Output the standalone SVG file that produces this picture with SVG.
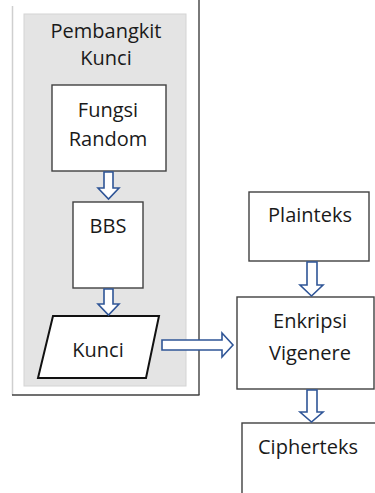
<svg xmlns="http://www.w3.org/2000/svg" width="375" height="493" viewBox="0 0 375 493">
<style>
.box{fill:#fff;stroke:#404040;stroke-width:1.4}
.t{font-family:"Open Sans","Liberation Sans",sans-serif;font-size:20px;fill:#1a1a1a;text-anchor:middle}
.arr{fill:#fff;stroke:#2f5597;stroke-width:1.6;stroke-linejoin:miter}
</style>
<rect width="375" height="493" fill="#fff"/>
<g id="frame">
<line x1="12.5" y1="6" x2="12.5" y2="395" stroke="#cfcfcf" stroke-width="1.5"/>
<line x1="199" y1="0" x2="199" y2="395" stroke="#404040" stroke-width="1.4"/>
<line x1="12" y1="395" x2="199.5" y2="395" stroke="#404040" stroke-width="1.4"/>
</g>
<g id="pembangkit-kunci">
<rect x="24" y="14" width="162" height="372" fill="#e4e4e4" stroke="#d4d4d4" stroke-width="1"/>
<text class="t" x="106" y="38">Pembangkit</text>
<text class="t" x="106" y="65">Kunci</text>
</g>
<g id="fungsi-random">
<rect class="box" x="52" y="85" width="114" height="86"/>
<text class="t" x="108" y="117">Fungsi</text>
<text class="t" x="108" y="146">Random</text>
</g>
<g id="bbs">
<rect class="box" x="73" y="202" width="70" height="86"/>
<text class="t" x="108" y="233">BBS</text>
</g>
<g id="kunci">
<polygon points="53,316 159,316 146,378 38,378" fill="#fff" stroke="#111" stroke-width="2"/>
<text class="t" x="98" y="357">Kunci</text>
</g>
<g id="plainteks">
<rect class="box" x="249" y="192" width="120" height="69"/>
<text class="t" x="310" y="222">Plainteks</text>
</g>
<g id="enkripsi-vigenere">
<rect class="box" x="237" y="297" width="137" height="92"/>
<text class="t" x="310" y="328">Enkripsi</text>
<text class="t" x="310" y="360">Vigenere</text>
</g>
<g id="cipherteks">
<rect class="box" x="242" y="423" width="150" height="100"/>
<text class="t" x="308" y="454">Cipherteks</text>
</g>
<g id="connectors">
<polygon class="arr" points="104,172 113,172 113,188 119,188 108.5,199 98,188 104,188"/>
<polygon class="arr" points="104,289 113,289 113,304 119,304 108.5,315 98,304 104,304"/>
<polygon class="arr" points="162,340 222,340 222,333 233,345 222,357 222,350 162,350"/>
<polygon class="arr" points="307,262 317,262 317,285 323,285 311.5,296 300,285 307,285"/>
<polygon class="arr" points="307,390 317,390 317,412 323,412 311.5,422 300,412 307,412"/>
</g>
</svg>
